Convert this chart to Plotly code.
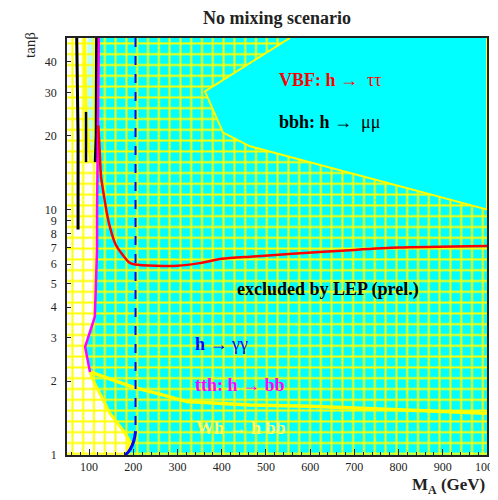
import plotly.graph_objects as go

# ---------------- data ----------------
x_ticks = [100, 200, 300, 400, 500, 600, 700, 800, 900, 1000]
x_ticklabels = [str(v) for v in x_ticks]
y_ticks = [1, 2, 3, 4, 5, 6, 7, 8, 9, 10, 20, 30, 40]
y_ticklabels = [str(v) for v in y_ticks]

# boundary of the uncovered (white) region, top -> bottom
ma_edge = [121, 121, 119, 118, 118, 113, 91, 98, 102, 109, 147, 181, 193, 186, 181]
tb_edge = [50, 20, 15, 10, 6.9, 3.66, 2.76, 2.37, 2.18, 2.02, 1.48, 1.23, 1.13, 1.03, 1.0]

# region not excluded by LEP (upper right, solid cyan)
ma_open = [554, 362, 403, 464, 1000]
tb_open = [50, 30.3, 20.6, 18.1, 10.0]

# pale strip between the black contours at low M_A
ma_strip = [96, 114, 114, 104, 96]
tb_strip = [50, 50, 15.6, 15.6, 25]

# Wh -> h bb contour
ma_wh = [102, 147, 199, 260, 321, 400, 464, 600, 800, 1000]
tb_wh = [2.18, 2.04, 1.89, 1.77, 1.65, 1.62, 1.60, 1.58, 1.53, 1.48]

# VBF h -> tau tau contour
ma_red = [121, 124, 127, 135, 140, 147, 160, 174, 190, 204, 250, 300, 350, 400, 464, 560, 700, 800, 1000]
tb_red = [22, 17, 13.6, 11, 9.7, 8.5, 7.2, 6.6, 6.1, 5.97, 5.9, 5.9, 6.05, 6.3, 6.43, 6.6, 6.85, 7.0, 7.1]

# tth: h -> bb contour
ma_mag = [122, 121, 119, 118, 118, 113, 91, 98, 102]
tb_mag = [50, 20, 15, 10, 6.9, 3.66, 2.76, 2.37, 2.18]

# h -> gamma gamma contour
ma_blue = [205, 205, 205]
tb_blue = [50, 10, 1.25]
ma_blue_low = [205, 203, 198, 189, 181]
tb_blue_low = [1.25, 1.18, 1.1, 1.03, 1.0]

# bbh: h -> mu mu contours (black)
ma_blk1 = [72, 73, 74, 75, 75, 75]
tb_blk1 = [50, 40, 30, 20, 10, 8.3]
ma_blk2 = [117, 117, 116, 114]
tb_blk2 = [50, 30, 20, 15.6]
ma_blk3 = [93, 93]
tb_blk3 = [25, 15.6]
ma_ystrip = [90, 91, 93, 103]
tb_ystrip = [50, 30, 25, 15.6]

# ---------------- styling ----------------
CYAN = "#00FFFF"
YEL = "#FFFF00"
SERIF = "Liberation Serif, Times New Roman, serif"
XMIN, XMAX, YMIN, YMAX = 50, 1000, 1, 50

hatch = dict(shape="+", size=10.8, solidity=0.33, fgcolor=YEL, fillmode="replace")

fig = go.Figure()

# white (uncovered) region, hatched
fig.add_trace(go.Scatter(
    x=[XMIN] + ma_edge + [XMIN], y=[YMAX] + tb_edge + [YMIN],
    mode="lines", line=dict(width=0), fill="toself",
    fillpattern=dict(hatch, bgcolor="#FFFFFF"), hoverinfo="skip"))

# cyan covered region, hatched
fig.add_trace(go.Scatter(
    x=[XMAX] + ma_edge + [XMAX], y=[YMAX] + tb_edge + [YMIN],
    mode="lines", line=dict(width=0), fill="toself",
    fillpattern=dict(hatch, bgcolor=CYAN), hoverinfo="skip"))

# pale strip
fig.add_trace(go.Scatter(
    x=ma_strip, y=tb_strip, mode="lines", line=dict(width=0), fill="toself",
    fillpattern=dict(hatch, bgcolor="#B4FFFF"), hoverinfo="skip"))

# not excluded by LEP (solid cyan)
fig.add_trace(go.Scatter(
    x=ma_open + [XMAX], y=tb_open + [YMAX], mode="lines",
    line=dict(color=YEL, width=2), fill="toself", fillcolor=CYAN, hoverinfo="skip"))

# yellow contours
fig.add_trace(go.Scatter(x=ma_edge[8:], y=tb_edge[8:], mode="lines",
                         line=dict(color=YEL, width=3), hoverinfo="skip"))
fig.add_trace(go.Scatter(x=ma_wh, y=tb_wh, mode="lines",
                         line=dict(color=YEL, width=3.5), hoverinfo="skip"))
fig.add_trace(go.Scatter(x=ma_ystrip, y=tb_ystrip, mode="lines",
                         line=dict(color=YEL, width=3), hoverinfo="skip"))

# black contours
for xs, ys, w in [(ma_blk1, tb_blk1, 3), (ma_blk2, tb_blk2, 3), (ma_blk3, tb_blk3, 2.5)]:
    fig.add_trace(go.Scatter(x=xs, y=ys, mode="lines",
                             line=dict(color="#000000", width=w), hoverinfo="skip"))

# magenta
fig.add_trace(go.Scatter(x=ma_mag, y=tb_mag, mode="lines",
                         line=dict(color="#FF00FF", width=2.5), hoverinfo="skip"))
# red
fig.add_trace(go.Scatter(x=ma_red, y=tb_red, mode="lines",
                         line=dict(color="#FF0000", width=2.5, shape="spline", smoothing=0.6),
                         hoverinfo="skip"))
# blue
fig.add_trace(go.Scatter(x=ma_blue, y=tb_blue, mode="lines",
                         line=dict(color="#0000FF", width=2, dash="dash"), hoverinfo="skip"))
fig.add_trace(go.Scatter(x=ma_blue_low, y=tb_blue_low, mode="lines",
                         line=dict(color="#0000FF", width=3, shape="spline"), hoverinfo="skip"))

# The page body has an 8px margin, so the figure starts 8px in from the window corner.
W, H = 498, 492
tickfont = dict(family=SERIF, size=12, color="#222222")
fig.update_layout(
    width=W, height=H,
    margin=dict(l=59, r=19, t=30, b=45, autoexpand=False),
    paper_bgcolor="white", plot_bgcolor="white",
    showlegend=False,
    title=dict(text="<b>No mixing scenario</b>", x=0.5, xref="paper",
               y=1 - 10 / H, yanchor="middle",
               font=dict(family=SERIF, size=18, color="#222222")),
    xaxis=dict(range=[XMIN, XMAX], tickmode="array", tickvals=x_ticks,
               ticktext=x_ticklabels,
               ticks="inside", ticklen=6, tickcolor="#222", showgrid=False, zeroline=False,
               showline=True, linecolor="#222", linewidth=1.5, mirror=True,
               tickfont=tickfont, ticklabeloverflow="allow",
               minor=dict(dtick=20, tick0=0, ticks="inside", ticklen=3, tickcolor="#222",
                          showgrid=False)),
    yaxis=dict(type="log", range=[0, 1.699], tickmode="array", tickvals=y_ticks,
               ticktext=y_ticklabels, ticks="inside", ticklen=4, tickcolor="#222",
               showgrid=False, zeroline=False, showline=True, linecolor="#222",
               linewidth=1.5, mirror=True, tickfont=tickfont, ticklabelstandoff=6),
)

ann_font = dict(family=SERIF, size=18)
nb = "\u00a0"
fig.add_annotation(x=525, y=1.527, xref="x", yref="y", xanchor="left", yanchor="middle",
                   text=f"<b>VBF: h →</b>{nb}{nb}ττ", showarrow=False,
                   font=dict(ann_font, color="#FF0000"))
fig.add_annotation(x=525, y=1.355, xref="x", yref="y", xanchor="left", yanchor="middle",
                   text=f"<b>bbh: h →</b>{nb}{nb}μμ", showarrow=False,
                   font=dict(ann_font, color="#000000"))
fig.add_annotation(x=430, y=0.673, xref="x", yref="y", xanchor="left", yanchor="middle",
                   text="<b>excluded by LEP (prel.)</b>", showarrow=False,
                   font=dict(ann_font, color="#000000"))
fig.add_annotation(x=335, y=0.453, xref="x", yref="y", xanchor="left", yanchor="middle",
                   text="<b>h →</b> γγ", showarrow=False,
                   font=dict(ann_font, color="#0000FF"))
fig.add_annotation(x=335, y=0.286, xref="x", yref="y", xanchor="left", yanchor="middle",
                   text="<b>tth: h → bb</b>", showarrow=False,
                   font=dict(ann_font, color="#FF00FF"))
fig.add_annotation(x=338, y=0.11, xref="x", yref="y", xanchor="left", yanchor="middle",
                   text="<b>Wh → h bb</b>", showarrow=False,
                   font=dict(ann_font, color="#FFFF66"))

# axis titles
fig.add_annotation(x=1.0, y=-31 / 417, xref="paper", yref="paper", xanchor="right",
                   yanchor="middle", text="<b>M<sub>A</sub> (GeV)</b>", showarrow=False,
                   font=dict(family=SERIF, size=17, color="#222222"))
fig.add_annotation(x=-37 / 420, y=(417 - 7) / 417, xref="paper", yref="paper",
                   xanchor="center", yanchor="middle", text="tanβ", textangle=-90,
                   showarrow=False, font=dict(family=SERIF, size=15, color="#222222"))

fig.write_html("out.html")
